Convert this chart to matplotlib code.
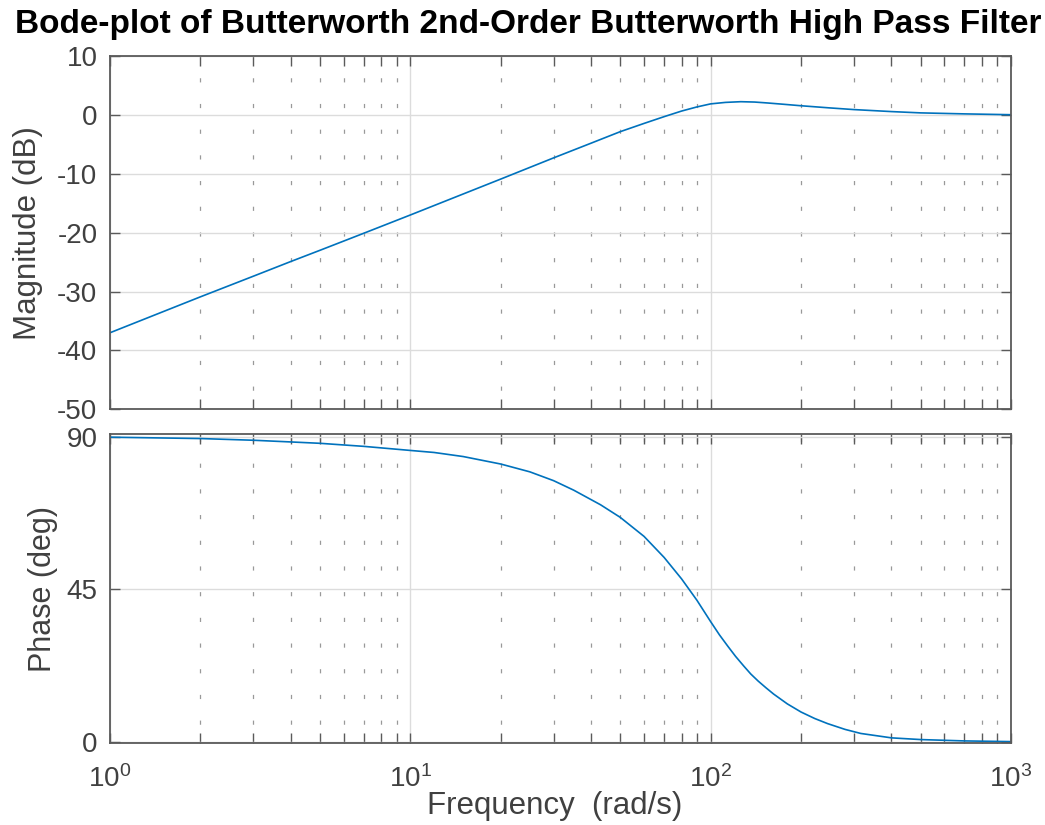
import matplotlib
matplotlib.use("Agg")
import matplotlib.pyplot as plt
from matplotlib.ticker import LogLocator, FixedLocator, NullFormatter, LogFormatterSciNotation

# Data
mag_freq = [1, 2, 3, 4, 5, 7, 10, 20, 30, 40, 50, 60, 70, 80, 90, 100,
            112, 126, 140, 154, 175, 200, 250, 300, 400, 500, 700, 1000]
mag_db = [-37.0, -30.9, -27.4, -24.9, -23.0, -20.1, -17.0, -10.9, -7.3, -4.8,
          -2.85, -1.45, -0.3, 0.65, 1.35, 1.87, 2.12, 2.24, 2.18, 2.03,
          1.8, 1.55, 1.18, 0.9, 0.56, 0.34, 0.17, 0.03]

ph_freq = [1, 2, 3, 4, 5, 7, 10, 12, 15, 20, 25, 30, 35, 43, 50, 60, 70, 80,
           90, 100, 107, 114, 121, 129, 136, 144, 153, 162, 180, 200, 222,
           245, 280, 316, 400, 500, 700, 1000]
ph_deg = [89.8, 89.4, 88.9, 88.4, 88.0, 87.1, 85.9, 85.3, 84.1, 81.9, 79.6,
          77.0, 74.2, 69.9, 66.2, 60.6, 54.4, 48.1, 41.8, 35.5, 31.6, 28.3,
          25.3, 22.4, 20.1, 18.0, 16.0, 14.2, 11.3, 8.9, 7.0, 5.5, 3.8, 2.6,
          1.3, 0.8, 0.4, 0.2]

title = "Bode-plot of Butterworth 2nd-Order Butterworth High Pass Filter"
mag_ticks = [10, 0, -10, -20, -30, -40, -50]
ph_ticks = [0, 45, 90]

plt.rcParams['font.family'] = ['Liberation Sans', 'DejaVu Sans']
plt.rcParams['mathtext.default'] = 'regular'
plt.rcParams['lines.scale_dashes'] = False
plt.rcParams['axes.unicode_minus'] = False

W, H = 1045, 825
fig = plt.figure(figsize=(W / 100, H / 100), dpi=100)

L, R = 110, 1011
ax1 = fig.add_axes([L / W, 1 - 409.3 / H, (R - L) / W, (409.3 - 56) / H])
ax2 = fig.add_axes([L / W, 1 - 743.3 / H, (R - L) / W, (743.3 - 434.3) / H])

line_color = '#0072BD'
txt_color = '#404040'
spine_color = '#5a5a5a'

ax1.semilogx(mag_freq, mag_db, color=line_color, lw=1.2)
ax2.semilogx(ph_freq, ph_deg, color=line_color, lw=1.2)

ax1.set_ylim(-50, 10)
ax1.yaxis.set_major_locator(FixedLocator(mag_ticks))
ax2.set_ylim(-0.3, 90.65)
ax2.yaxis.set_major_locator(FixedLocator(ph_ticks))

for ax in (ax1, ax2):
    ax.set_xlim(1, 1000)
    ax.xaxis.set_major_locator(LogLocator(base=10, numticks=10))
    ax.xaxis.set_minor_locator(LogLocator(base=10, subs=range(2, 10), numticks=100))
    ax.xaxis.set_minor_formatter(NullFormatter())
    ax.grid(True, which='major', color='#dcdcdc', lw=1.0, ls='-')
    ax.grid(True, which='minor', axis='x', color='#999999', lw=0.9,
            ls=(5, (3.0, 15.5)))
    ax.set_axisbelow(True)
    ax.tick_params(which='both', direction='in', top=True, right=True,
                   color=spine_color, width=1.0, labelsize=20,
                   labelcolor=txt_color)
    ax.tick_params(axis='y', pad=9)
    ax.tick_params(axis='x', pad=16)
    ax.tick_params(which='major', length=7)
    ax.tick_params(which='minor', length=7)
    for s in ax.spines.values():
        s.set_color(spine_color)
        s.set_linewidth(1.3)

ax1.xaxis.set_major_formatter(NullFormatter())
ax2.xaxis.set_major_formatter(LogFormatterSciNotation())

ax1.set_ylabel('Magnitude (dB)', fontsize=22.5, color=txt_color)
ax1.yaxis.set_label_coords((43 - L) / (R - L), 0.5)
ax2.set_ylabel('Phase (deg)', fontsize=22, color=txt_color)
ax2.yaxis.set_label_coords((58 - L) / (R - L), 0.5)
ax2.set_xlabel('Frequency  (rad/s)', fontsize=22.5, color=txt_color)
ax2.xaxis.set_label_coords((555 - L) / (R - L), -(806 - 743.3) / (743.3 - 434.3))
ax2.xaxis.label.set_va('center')

fig.text(0.5 * (17 + 1040) / W, 1 - 25 / H, title, ha='center', va='center',
         fontsize=24, fontweight='bold', color='black')

fig.savefig('out.png', dpi=100)
